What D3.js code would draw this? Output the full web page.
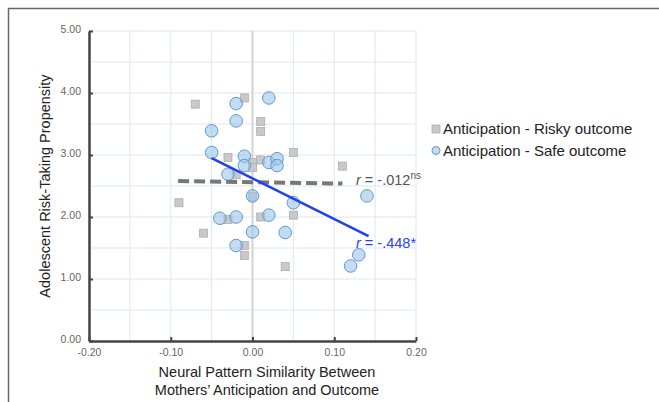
<!DOCTYPE html>
<html><head><meta charset="utf-8">
<script src="https://cdn.jsdelivr.net/npm/d3@7"></script>
<style>html,body{margin:0;padding:0;background:#fff;}svg{display:block;font-family:"Liberation Sans",Arial,sans-serif;}</style>
</head><body>
<svg id="chart" width="659" height="402"></svg>
<script>
// Data
const riskyX = [-0.07,-0.01,0.01,0.01,0.05,-0.03,0.01,0.00,0.00,0.11,-0.02,-0.09,0.00,-0.06,-0.03,0.01,0.05,-0.01,-0.01,0.04];
const riskyY = [3.82,3.92,3.54,3.38,3.04,2.96,2.92,2.88,2.80,2.82,2.68,2.23,2.33,1.74,1.96,2.00,2.03,1.54,1.38,1.20];
const safeX = [0.02,-0.02,-0.02,-0.05,-0.05,-0.01,-0.01,0.02,0.03,0.03,-0.03,0.00,0.05,0.14,-0.04,-0.02,0.02,0.00,0.04,-0.02,0.13,0.12];
const safeY = [3.92,3.83,3.55,3.39,3.04,2.98,2.83,2.88,2.94,2.83,2.69,2.34,2.23,2.34,1.98,2.00,2.03,1.76,1.75,1.54,1.39,1.21];
const riskyFitX = [-0.091,0.11];
const riskyFitY = [2.58,2.54];
const safeFitX = [-0.05,0.142];
const safeFitY = [2.95,1.69];
const xTicks = [-0.20,-0.10,0.00,0.10,0.20];
const xTickLabels = ["-0.20","-0.10","0.00","0.10","0.20"];
const yTicks = [0,1,2,3,4,5];
const yTickLabels = ["0.00","1.00","2.00","3.00","4.00","5.00"];
const seriesNames = ["Anticipation - Risky outcome","Anticipation - Safe outcome"];

const svg = d3.select("#chart");
const x = d3.scaleLinear().domain([-0.2,0.2]).range([89,416]);
const y = d3.scaleLinear().domain([0,5]).range([341,31]);

// outer frame
svg.append("rect").attr("x",8.5).attr("y",8.5).attr("width",800).attr("height",600)
  .attr("fill","none").attr("stroke","#666").attr("stroke-width",1.5);

// gridlines
const gx = d3.range(-0.2,0.2001,0.05), gy = d3.range(0,5.001,0.5);
svg.append("g").selectAll("line").data(gx).join("line")
  .attr("x1",d=>x(d)).attr("x2",d=>x(d)).attr("y1",y(5)).attr("y2",y(0))
  .attr("stroke","#dde7f3").attr("stroke-width",1);
svg.append("g").selectAll("line").data(gy).join("line")
  .attr("x1",x(-0.2)).attr("x2",x(0.2)).attr("y1",d=>y(d)).attr("y2",d=>y(d))
  .attr("stroke","#dde7f3").attr("stroke-width",1);
// zero line
svg.append("line").attr("x1",x(0)).attr("x2",x(0)).attr("y1",y(5)).attr("y2",y(0))
  .attr("stroke","#d3d3d3").attr("stroke-width",2);

// axes
const xAxis = d3.axisBottom(x).tickValues(xTicks).tickFormat((d,i)=>xTickLabels[i]).tickSize(-4).tickSizeOuter(0).tickPadding(10);
const yAxis = d3.axisLeft(y).tickValues(yTicks).tickFormat((d,i)=>yTickLabels[i]).tickSize(-4).tickSizeOuter(0).tickPadding(10);
const gxa = svg.append("g").attr("transform",`translate(0,${y(0)})`).call(xAxis);
const gya = svg.append("g").attr("transform",`translate(${x(-0.2)},0)`).call(yAxis);
[gxa,gya].forEach(g=>{
  g.select(".domain").attr("stroke","#444").attr("stroke-width",2.5);
  g.selectAll(".tick line").attr("stroke","#444").attr("stroke-width",2);
  g.selectAll(".tick text").attr("fill","#666").attr("font-size",10.5).attr("font-family","Liberation Sans, Arial, sans-serif");
});
gya.selectAll(".tick text").attr("x",-8).attr("dy","0.15em");
gxa.selectAll(".tick text").attr("y",8);

// points
svg.append("g").selectAll("rect").data(riskyX.map((d,i)=>[d,riskyY[i]])).join("rect")
  .attr("x",d=>x(d[0])-4).attr("y",d=>y(d[1])-4).attr("width",8).attr("height",8)
  .attr("fill","#c9c9c9").attr("stroke","#adadad").attr("stroke-width",0.8);
svg.append("g").selectAll("circle").data(safeX.map((d,i)=>[d,safeY[i]])).join("circle")
  .attr("cx",d=>x(d[0])).attr("cy",d=>y(d[1])).attr("r",6.3)
  .attr("fill","rgba(157,195,230,0.6)").attr("stroke","#5b9bd5").attr("stroke-width",1);

// fit lines
const line = d3.line().x(d=>x(d[0])).y(d=>y(d[1]));
svg.append("path").attr("d",line(riskyFitX.map((d,i)=>[d,riskyFitY[i]])))
  .attr("stroke","#777").attr("stroke-width",4).attr("stroke-dasharray","11,5").attr("fill","none");
svg.append("path").attr("d",line(safeFitX.map((d,i)=>[d,safeFitY[i]])))
  .attr("stroke","#1f3ff2").attr("stroke-width",2.5).attr("fill","none");

// annotations
const a1 = svg.append("text").attr("x",356).attr("y",185).attr("font-size",14.5).attr("fill","#555");
a1.append("tspan").attr("font-style","italic").text("r");
a1.append("tspan").text(" = -.012");
a1.append("tspan").attr("font-size",10).attr("dy",-6).text("ns");
const a2 = svg.append("text").attr("x",356).attr("y",248).attr("font-size",14.5).attr("fill","#2a3ff0");
a2.append("tspan").attr("font-style","italic").text("r");
a2.append("tspan").text(" = -.448*");

// legend
svg.append("rect").attr("x",432).attr("y",125).attr("width",8).attr("height",8)
  .attr("fill","#c9c9c9").attr("stroke","#adadad").attr("stroke-width",0.8);
svg.append("circle").attr("cx",436).attr("cy",150.5).attr("r",4)
  .attr("fill","rgba(157,195,230,0.6)").attr("stroke","#5b9bd5").attr("stroke-width",1);
svg.append("text").attr("x",443).attr("y",134).attr("font-size",15).attr("fill","#222").text(seriesNames[0]);
svg.append("text").attr("x",443).attr("y",155.5).attr("font-size",15).attr("fill","#222").text(seriesNames[1]);

// axis titles
svg.append("text").attr("x",267).attr("y",377).attr("text-anchor","middle").attr("font-size",14.5).attr("fill","#222").text("Neural Pattern Similarity Between");
svg.append("text").attr("x",267).attr("y",395).attr("text-anchor","middle").attr("font-size",14.5).attr("fill","#222").text("Mothers’ Anticipation and Outcome");
svg.append("text").attr("transform","translate(50,186) rotate(-90)").attr("text-anchor","middle").attr("font-size",14.5).attr("fill","#222").text("Adolescent Risk-Taking Propensity");
</script>
</body></html>
